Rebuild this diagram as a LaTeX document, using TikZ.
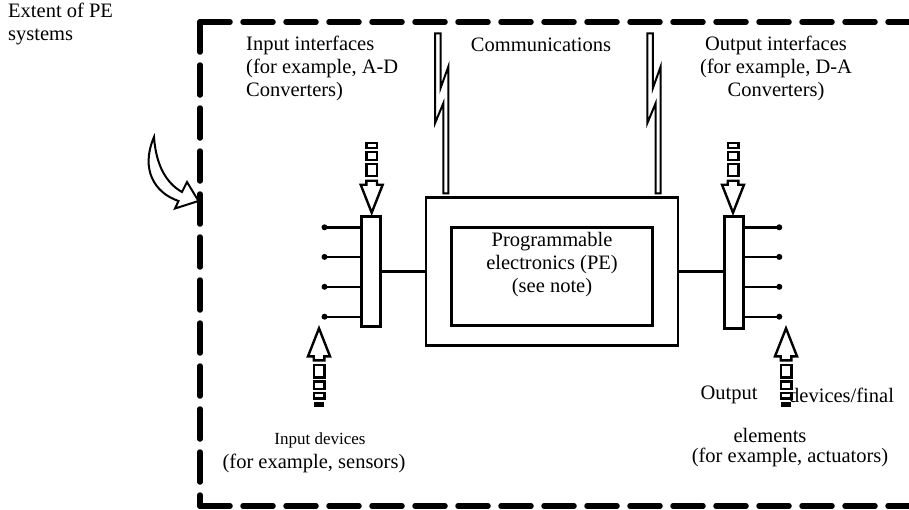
\documentclass[tikz,border=0pt]{standalone}
\usepackage{fontspec}
\setmainfont{Liberation Serif}
\usetikzlibrary{positioning}

% hollow arrow with a trail of shrinking blocks, tip at #1, #2 = 1 down / -1 up
\newcommand{\feedarrow}[3]{%
  \begin{scope}[shift={#1}, yscale=#2]
    \draw[hollow] (0,0) -- (11,-28) -- (5.3,-28) -- (5.3,-32) -- (-5.3,-32) -- (-5.3,-28) -- (-11,-28) -- cycle;
    \draw[hollow] (-5.3,-36.5) rectangle (5.3,-49);
    \draw[hollow] (-5.3,-53) rectangle (5.3,-60.5);
    \draw[hollow] (-5.3,-64.5) rectangle (5.3,-70);
    #3
  \end{scope}}
% communication link, top left corner at #1
\newcommand{\bolt}[1]{%
  \draw[hollow, line width=2pt] #1 -- ++(5.5,0) -- ++(0,55) -- ++(7.8,-21.6) -- ++(0,126.6)
    -- ++(-5,0) -- ++(0,-90) -- ++(-8.3,20) -- cycle;}

\begin{document}
\begin{tikzpicture}[x=1pt, y=-1pt,
  font=\fontsize{20.5}{23}\selectfont,
  border/.style={line width=5.5pt, dash pattern=on 30pt off 13pt, line cap=round},
  box/.style={draw, line width=2.8pt, inner sep=0pt},
  hollow/.style={draw, fill=white, line width=2.4pt, line join=miter},
  wire/.style={line width=2.4pt},
  lbl/.style={inner sep=0pt, align=center},
]
\useasboundingbox (0,0) rectangle (909,509);

% extent of PE systems
\draw[border] (200,22) -- (915,22);
\draw[border] (200,22) -- (200,506);
\draw[border] (200,506) -- (915,506);

\node[box, minimum width=252pt, minimum height=148pt] (peout) at (552,271.5) {};
\node[box, minimum width=200.6pt, minimum height=98.4pt] (pein) at (552,276.5) {};
\node[lbl] (petxt) at (552,265) {Programmable\\electronics (PE)\\(see note)};
\node[box, minimum width=19.5pt, minimum height=110.5pt] (inbar) at (371,271.4) {};
\node[box, minimum width=19pt, minimum height=112pt] (outbar) at (733.8,272.2) {};

\draw[wire] (inbar.east) -- (inbar.east -| peout.west);
\draw[wire] (peout.east) -- (peout.east -| outbar.west);
\foreach \y [count=\i] in {227.3,256.9,286.8,316.7} {
  \coordinate (ip\i) at (324.5,\y);
  \coordinate (op\i) at (779.3,\y);
  \draw[wire] (ip\i) -- (ip\i -| inbar.west);
  \draw[wire] (op\i) -- (op\i -| outbar.east);
  \fill (ip\i) circle (3pt);
  \fill (op\i) circle (3pt);
}

\feedarrow{(371.7,212.7)}{1}{}
\feedarrow{(733,212.7)}{1}{}
\feedarrow{(319,328.3)}{-1}{\fill (-5.3,-73.4) rectangle (5.3,-78.4);}
\feedarrow{(786,328.3)}{-1}{\fill (-5.3,-73.4) rectangle (5.3,-78.4);}

\bolt{(435,33.3)}
\bolt{(647.3,33.3)}

\draw[hollow, line width=2pt] (154,137) .. controls (156,165) and (166,183) .. (182,192)
  -- (187,182) -- (198.5,201) -- (175,208.5) -- (178.5,201)
  .. controls (155,193) and (140,170) .. (154,137) -- cycle;

\node[lbl, anchor=west, align=left] (extent) at (8,24) {Extent of PE\\systems};
\node[lbl, anchor=west, align=left] (inif) at (246,68) {Input interfaces\\(for example, A-D\\Converters)};
\node[lbl] (comms) at (541,45) {Communications};
\node[lbl] (outif) at (776,68) {Output interfaces\\(for example, D-A\\Converters)};
\node[lbl, font=\fontsize{17}{20}\selectfont] (indev) at (320,440) {Input devices};
\node[lbl] (sensex) at (314,463) {(for example, sensors)};
\node[lbl] (outw) at (729,395) {Output};
\node[lbl, anchor=west] (devw) at (789,395) {devices/final};
\node[lbl] (elem) at (770,435) {elements};
\node[lbl] (actex) at (790,457) {(for example, actuators)};
\end{tikzpicture}
\end{document}
